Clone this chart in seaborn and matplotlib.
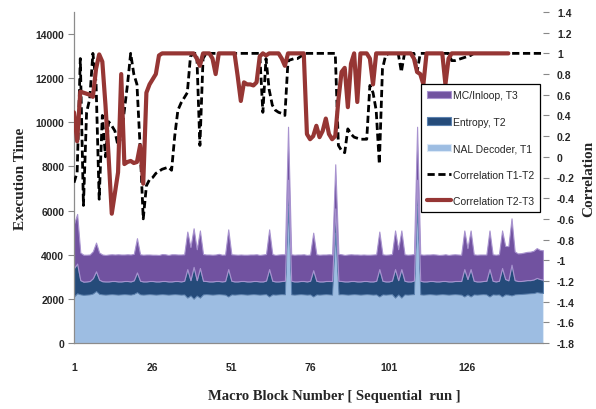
import numpy as np
import pandas as pd
import matplotlib
matplotlib.use("Agg")
import matplotlib.pyplot as plt
import seaborn as sns
from matplotlib.patches import Patch
from matplotlib.lines import Line2D
from matplotlib.ticker import FuncFormatter

# ---------------- data ----------------
blocks = list(range(1, 151))

nal_t1 = [
    2100, 2250, 2200, 2180, 2190, 2200, 2240, 2350, 2220, 2200,
    2190, 2200, 2210, 2200, 2190, 2200, 2210, 2200, 2190, 2220,
    2300, 2200, 2190, 2200, 2210, 2200, 2190, 2200, 2210, 2200,
    2190, 2200, 2210, 2200, 2190, 2200, 2050, 2150, 2000, 2150,
    2050, 2200, 2210, 2200, 2190, 2200, 2210, 2200, 2190, 2100,
    2200, 2190, 2200, 2210, 2200, 2190, 2200, 2210, 2200, 2190,
    2200, 2210, 2100, 2200, 2190, 2200, 2210, 2200, 6200, 2200,
    2190, 2200, 2210, 2200, 2190, 2200, 2100, 2200, 2190, 2200,
    2210, 2200, 2190, 5000, 2200, 2210, 2200, 2190, 2200, 2210,
    2200, 2190, 2200, 2210, 2200, 2190, 2200, 2100, 2200, 2190,
    2200, 2210, 2050, 2200, 2050, 2200, 2190, 2200, 2210, 6200,
    2200, 2190, 2200, 2210, 2200, 2190, 2200, 2210, 2200, 2190,
    2200, 2210, 2200, 2190, 2100, 2200, 2100, 2200, 2190, 2200,
    2210, 2200, 2100, 2200, 2190, 2200, 2100, 2200, 2190, 2150,
    2200, 2210, 2220, 2230, 2240, 2250, 2260, 2300, 2280, 2270,
]

entropy_t2 = [
    1300, 1350, 650, 600, 600, 610, 700, 900, 650, 600,
    600, 590, 600, 610, 600, 590, 600, 610, 600, 620,
    900, 620, 600, 590, 600, 610, 600, 590, 600, 610,
    600, 590, 600, 610, 600, 620, 1300, 700, 1450, 700,
    1350, 620, 600, 590, 600, 610, 600, 590, 620, 1250,
    620, 600, 590, 600, 610, 600, 590, 600, 610, 600,
    590, 620, 1250, 620, 600, 590, 600, 620, 1200, 620,
    600, 590, 600, 610, 600, 620, 1200, 620, 600, 590,
    600, 610, 620, 1100, 620, 600, 590, 600, 610, 600,
    590, 600, 610, 600, 590, 600, 620, 1250, 620, 600,
    590, 620, 1300, 650, 1300, 620, 600, 590, 620, 1200,
    620, 600, 590, 600, 610, 600, 590, 600, 610, 600,
    590, 600, 610, 620, 1250, 700, 1250, 620, 600, 590,
    600, 620, 1250, 620, 600, 620, 1300, 700, 650, 1400,
    650, 600, 590, 600, 610, 600, 620, 650, 620, 600,
]

mc_t3 = [
    2000, 2250, 1250, 1220, 1210, 1200, 1220, 1300, 1230, 1210,
    1200, 1220, 1210, 1200, 1230, 1220, 1200, 1210, 1220, 1200,
    1550, 1200, 1210, 1220, 1200, 1190, 1210, 1200, 1220, 1210,
    1200, 1230, 1210, 1200, 1220, 1200, 1700, 1500, 1750, 1400,
    1700, 1210, 1200, 1220, 1210, 1200, 1230, 1210, 1200, 1800,
    1200, 1220, 1210, 1200, 1190, 1210, 1220, 1200, 1210, 1200,
    1220, 1200, 1800, 1210, 1200, 1220, 1210, 1200, 2400, 1200,
    1210, 1220, 1200, 1210, 1200, 1190, 1700, 1200, 1210, 1220,
    1200, 1210, 1200, 2000, 1220, 1210, 1200, 1220, 1210, 1200,
    1220, 1210, 1200, 1190, 1210, 1220, 1200, 1700, 1200, 1210,
    1220, 1200, 1750, 1400, 1750, 1200, 1210, 1220, 1200, 2400,
    1200, 1210, 1220, 1200, 1210, 1220, 1200, 1190, 1210, 1200,
    1220, 1210, 1200, 1190, 1750, 1400, 1750, 1200, 1210, 1220,
    1200, 1190, 1750, 1200, 1210, 1200, 1700, 1500, 1550, 2100,
    1300, 1250, 1260, 1270, 1280, 1290, 1300, 1350, 1320, 1330,
]

corr_t1_t2 = [
    -0.25, -0.15, 0.95, -0.47, 0.43, 0.56, 1.0, 0.72, -0.41, 0.40,
    0.0, 0.34, 0.30, 0.25, 0.10, 0.20, 0.45, 0.70, 1.0, 0.80,
    0.70, 0.10, -0.60, -0.28, -0.22, -0.20, -0.16, -0.14, -0.12, -0.11,
    -0.10, -0.13, 0.20, 0.45, 0.52, 0.57, 0.62, 0.97, 1.0, 1.0,
    0.11, 0.95, 1.0, 1.0, 1.0, 1.0, 1.0, 1.0, 1.0, 1.0,
    1.0, 1.0, 1.0, 1.0, 1.0, 1.0, 1.0, 1.0, 1.0, 1.0,
    0.43, 0.95, 0.65, 0.50, 0.45, 0.43, 0.42, 0.40, 0.93, 0.94,
    0.95, 0.95, 0.97, 1.0, 1.0, 1.0, 1.0, 1.0, 1.0, 1.0,
    1.0, 1.0, 1.0, 1.0, 0.11, 0.06, 0.04, 0.27, 0.22, 0.19,
    0.18, 0.17, 0.17, 0.17, 0.69, 0.62, 0.45, -0.07, 0.85, 0.98,
    1.0, 1.0, 1.0, 1.0, 0.82, 1.0, 1.0, 1.0, 1.0, 0.82,
    1.0, 1.0, 1.0, 1.0, 1.0, 1.0, 1.0, 1.0, 1.0, 1.0,
    0.93, 0.93, 0.94, 0.95, 0.96, 0.97, 0.98, 1.0, 1.0, 1.0,
    1.0, 1.0, 1.0, 1.0, 1.0, 1.0, 1.0, 1.0, 1.0, 1.0,
    1.0, 1.0, 1.0, 1.0, 1.0, 1.0, 1.0, 1.0, 1.0, 1.0,
]

corr_t2_t3 = [
    0.43, 0.15, 0.63, 0.62, 0.61, 0.60, 0.58, 0.85, 0.99, 0.92,
    0.50, 0.0, -0.55, -0.35, -0.15, 0.80, -0.07, -0.05, -0.04, -0.06,
    -0.05, 0.11, -0.26, 0.62, 0.70, 0.75, 0.80, 0.98, 1.0, 1.0,
    1.0, 1.0, 1.0, 1.0, 1.0, 1.0, 1.0, 1.0, 1.0, 0.95,
    0.88, 1.0, 1.0, 1.0, 0.95, 0.80, 1.0, 1.0, 1.0, 1.0,
    1.0, 1.0, 0.78, 0.54, 0.72, 0.70, 0.70, 0.69, 0.72, 0.97,
    1.0, 0.98, 1.0, 1.0, 1.0, 1.0, 0.95, 0.88, 1.0, 1.0,
    1.0, 1.0, 1.0, 1.0, 0.22, 0.17, 0.20, 0.30, 0.19, 0.25,
    0.37, 0.22, 0.17, 0.20, 0.55, 0.82, 0.86, 0.48, 0.90, 1.0,
    0.53, 1.0, 1.0, 1.0, 0.95, 0.70, 1.0, 1.0, 1.0, 1.0,
    1.0, 1.0, 1.0, 1.0, 1.0, 1.0, 1.0, 1.0, 0.95, 0.82,
    0.80, 0.70, 1.0, 1.0, 1.0, 1.0, 1.0, 1.0, 0.70, 0.95,
    1.0, 1.0, 1.0, 1.0, 1.0, 1.0, 1.0, 1.0, 1.0, 1.0,
    1.0, 1.0, 1.0, 1.0, 1.0, 1.0, 1.0, 1.0, 1.0, None,
    None, None, None, None, None, None, None, None, None, None,
]

x_ticks = [1, 26, 51, 76, 101, 126]
left_ticks = [0, 2000, 4000, 6000, 8000, 10000, 12000, 14000]
right_ticks = [-1.8, -1.6, -1.4, -1.2, -1.0, -0.8, -0.6, -0.4, -0.2, 0.0,
               0.2, 0.4, 0.6, 0.8, 1.0, 1.2, 1.4]
series_labels = ["MC/Inloop, T3", "Entropy, T2", "NAL Decoder, T1",
                 "Correlation T1-T2", "Correlation T2-T3"]

# ---------------- style ----------------
sns.set_theme(style="white")
plt.rcParams["font.family"] = ["Liberation Sans", "DejaVu Sans"]

C_NAL, E_NAL = "#9dbde2", "#dbe8f6"
C_ENT, E_ENT = "#254b7a", "#5c82b0"
C_MC, E_MC = "#7152a0", "#a893cf"
C_RED = "#963634"

W, H = 596, 410
fig = plt.figure(figsize=(W / 100, H / 100), dpi=100)
L, R, T, B = 74, 543, 13, 344
ax = fig.add_axes([L / W, 1 - B / H, (R - L) / W, (B - T) / H])

polys = ax.stackplot(blocks, nal_t1, entropy_t2, mc_t3,
                     colors=[C_NAL, C_ENT, C_MC], zorder=2)
for p, ec in zip(polys, [E_NAL, E_ENT, E_MC]):
    p.set_edgecolor(ec)
    p.set_linewidth(0.8)

ax.set_xlim(1, 150)
ax.set_ylim(0, 15000)
ax.set_yticks(left_ticks)
ax.set_xticks(x_ticks)
ax.tick_params(axis="y", which="both", left=True, length=4, width=0.8,
               color="#888888", pad=3, labelsize=7.5)
ax.tick_params(axis="x", length=0, pad=14, labelsize=7.5)
for lab in ax.get_xticklabels() + ax.get_yticklabels():
    lab.set_fontweight("bold")
for s in ["top", "right"]:
    ax.spines[s].set_visible(False)
for s in ["left", "bottom"]:
    ax.spines[s].set_color("#8c8c8c")
    ax.spines[s].set_linewidth(0.9)
ax.set_ylabel("Execution Time", fontfamily="Liberation Serif",
              fontweight="bold", fontsize=11, labelpad=6)
ax.set_xlabel("")

ax2 = ax.twinx()
df = pd.DataFrame({"block": blocks,
                   "c12": pd.to_numeric(pd.Series(corr_t1_t2), errors="coerce"),
                   "c23": pd.to_numeric(pd.Series(corr_t2_t3), errors="coerce")})
sns.lineplot(data=df, x="block", y="c12", ax=ax2, color="black",
             linewidth=2.0, linestyle=(0, (2.6, 1.3)), zorder=3)
sns.lineplot(data=df.dropna(), x="block", y="c23", ax=ax2, color=C_RED,
             linewidth=3.0, zorder=4)
ax2.set_xlim(1, 150)
ax2.set_ylim(-1.8, 1.4)
ax2.set_yticks(right_ticks)
ax2.yaxis.set_major_formatter(FuncFormatter(lambda v, p: f"{v:g}" if abs(v) > 1e-9 else "0"))
ax2.tick_params(axis="y", right=True, length=4, width=0.8, color="#888888",
                pad=6, labelsize=7.5)
for lab in ax2.get_yticklabels():
    lab.set_fontweight("bold")
for s in ["top", "right", "left", "bottom"]:
    ax2.spines[s].set_visible(False)
ax2.set_xlabel("")
ax2.set_ylabel("Correlation", fontfamily="Liberation Serif",
               fontweight="bold", fontsize=11, labelpad=5)

fig.text(334 / W, 1 - 397 / H, "Macro Block Number [ Sequential  run ]",
         ha="center", va="center", fontfamily="Liberation Serif",
         fontweight="bold", fontsize=10.5)

handles = [
    Patch(facecolor=C_MC, edgecolor=E_MC, linewidth=0.8),
    Patch(facecolor=C_ENT, edgecolor=E_ENT, linewidth=0.8),
    Patch(facecolor=C_NAL, edgecolor=E_NAL, linewidth=0.8),
    Line2D([], [], color="black", linewidth=2.0, linestyle=(0, (2.6, 1.3))),
    Line2D([], [], color=C_RED, linewidth=3.0),
]
leg = ax2.legend(handles, series_labels, loc="upper left",
                 bbox_to_anchor=(421 / W, 1 - 85 / H),
                 bbox_transform=fig.transFigure, frameon=True, fancybox=False,
                 edgecolor="black", facecolor="white", framealpha=1,
                 fontsize=7.5, labelspacing=1.58, handlelength=2.3,
                 handleheight=0.7, handletextpad=0.15, borderpad=0.6,
                 borderaxespad=0)
leg.get_frame().set_linewidth(0.9)
leg.set_zorder(10)

fig.savefig("out.png", dpi=100)
